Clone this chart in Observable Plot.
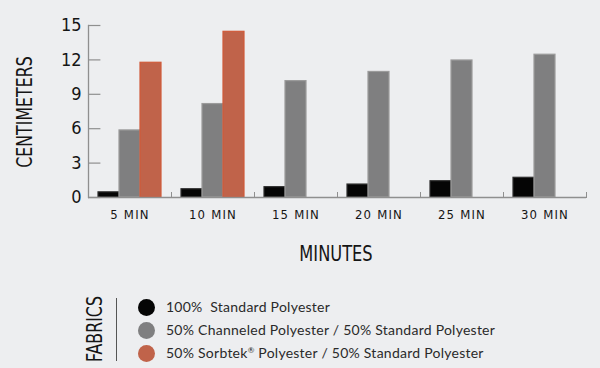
<!DOCTYPE html>
<html><head><meta charset="utf-8">
<script src="https://cdn.jsdelivr.net/npm/d3@7"></script>
<script src="https://cdn.jsdelivr.net/npm/@observablehq/plot@0.6"></script>
<style>
body{margin:0;background:#edeef0;}
#c{position:relative;width:600px;height:368px;overflow:hidden;background:#edeef0;}
#c svg{position:absolute;left:0;top:0;}
.cond{font-family:"Liberation Sans Narrow","DejaVu Sans Condensed",sans-serif;color:#151515;position:absolute;white-space:nowrap;line-height:1;}
.lab{position:absolute;font-family:Lato,"Open Sans",sans-serif;font-size:14px;color:#2a2a2a;white-space:nowrap;letter-spacing:0.25px;line-height:1;}
.dot{position:absolute;width:17px;height:17px;border-radius:50%;}
[aria-label="fx-axis tick label"] text{letter-spacing:1.2px;}
</style></head>
<body><div id="c"></div>
<script>
const times = ["5 MIN","10 MIN","15 MIN","20 MIN","25 MIN","30 MIN"];
const fabrics = ["100%  Standard Polyester","50% Channeled Polyester / 50% Standard Polyester","50% Sorbtek® Polyester / 50% Standard Polyester"];
const standard = [0.45,0.72,0.9,1.13,1.42,1.72];
const channeled = [5.85,8.15,10.15,10.95,11.95,12.45];
const sorbtek = [11.75,14.45,null,null,null,null];
const yTicks = [0,3,6,9,12,15];
const fills = ["#050505","#7f7f80","#c0634a"];
const strokes = ["#2e2e2e","#9b9b9b","#d05a3a"];

const series = [standard, channeled, sorbtek];
const rows = [];
times.forEach((t,i)=>series.forEach((s,j)=>{ if(s[i]!=null) rows.push({time:t,fabric:fabrics[j],value:s[i],k:j}); }));

const axisColor = "#8f8f8f";
const chart = Plot.plot({
  width:600, height:222,
  marginLeft:87, marginRight:13, marginTop:25, marginBottom:25,
  style:{background:"transparent", fontFamily:'"Liberation Sans Narrow","DejaVu Sans Condensed",sans-serif', color:"#151515", overflow:"visible"},
  fx:{domain:times, padding:0, label:null},
  x:{domain:fabrics, paddingInner:0, paddingOuter:0.39, axis:null},
  y:{domain:[0,15]},
  marks:[
    Plot.barY(rows,{fx:"time", x:"fabric", y:"value", fill:d=>fills[d.k], stroke:d=>strokes[d.k], strokeWidth:1.2}),
    Plot.ruleY([0],{stroke:axisColor, strokeWidth:1.3}),
    Plot.frame({anchor:"right", insetTop:167, stroke:axisColor, strokeWidth:1}),
    Plot.frame({anchor:"left", facetAnchor:"left", stroke:axisColor, strokeWidth:1.3}),
    Plot.tickY(yTicks,{y:d=>d, facetAnchor:"left", insetRight:70.6, stroke:axisColor, strokeWidth:1.2}),
    Plot.axisY(yTicks,{tickSize:0, tickPadding:7, fontSize:18, label:null}),
    Plot.axisFx({anchor:"bottom", tickSize:0, tickPadding:12, fontSize:13, label:null})
  ]
});
const c = document.getElementById("c");
c.appendChild(chart);

function addText(txt, cls, x, y, size, transform){
  const d = document.createElement("div");
  d.className = cls; d.textContent = txt;
  d.style.left = x+"px"; d.style.top = y+"px"; d.style.fontSize = size+"px";
  d.style.transform = transform;
  c.appendChild(d); return d;
}
addText("CENTIMETERS","cond",25,112,22,"translate(-50%,-50%) rotate(-90deg) scale(0.8,1)");
addText("MINUTES","cond",336,254,22,"translate(-50%,-50%) scale(0.82,1)");
addText("FABRICS","cond",95,329,22,"translate(-50%,-50%) rotate(-90deg) scale(0.8,1)");
const line = document.createElement("div");
Object.assign(line.style,{position:"absolute",left:"116px",top:"298px",width:"1px",height:"63px",background:"#555"});
c.appendChild(line);
const rowY = [307,330,353];
fabrics.forEach((f,i)=>{
  const d = document.createElement("div");
  d.className="dot"; d.style.left=(146-8.5)+"px"; d.style.top=(rowY[i]-8.5)+"px"; d.style.background=fills[i];
  c.appendChild(d);
  const t = document.createElement("div");
  t.className="lab"; t.style.left="166px"; t.style.top=(rowY[i]-7)+"px";
  t.innerHTML = f.replace("®","<sup style='font-size:8px;vertical-align:5px'>®</sup>").replace("  ","&nbsp; ");
  c.appendChild(t);
});
</script></body></html>
